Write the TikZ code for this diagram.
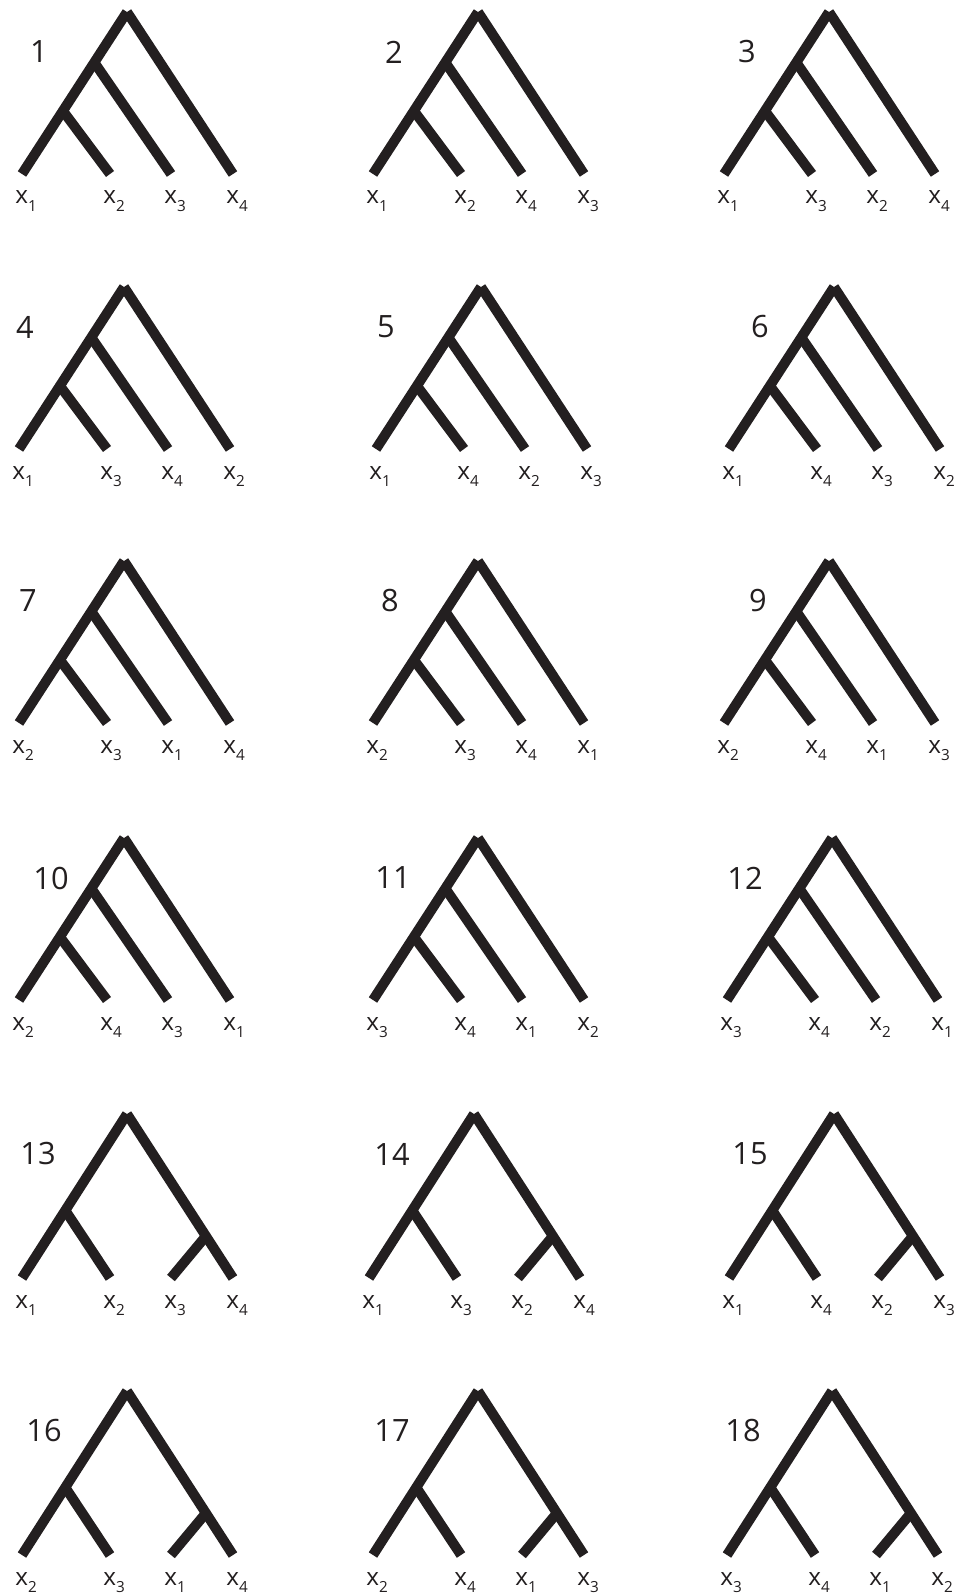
\documentclass[tikz,border=0pt]{standalone}
\usepackage{fontspec}
\setmainfont{Open Sans}
\definecolor{ink}{HTML}{231F20}
\newcommand{\leafsub}[1]{x\raisebox{-4pt}{\fontsize{8.7}{9}\selectfont #1}}

\begin{document}
\begin{tikzpicture}[
  x=0.02cm, y=-0.02cm,
  branch/.style={draw=ink, line width=0.2cm, line cap=butt},
  treenum/.style={font=\fontsize{17.5}{20}\selectfont, inner sep=0pt, text=ink},
  leaflab/.style={anchor=base west, inner sep=0pt, font=\fontsize{13.8}{14}\selectfont, text=ink}
]
\useasboundingbox (0,0) rectangle (956,1594);

% Caterpillar trees (1-12)
\foreach \n/\rx/\ry/\dx/\a/\b/\c/\d in {
  1/127/12/-88/1/2/3/4, 2/478/12/-84/1/2/4/3, 3/829/12/-82/1/3/2/4,
  4/124/287/-99/1/3/4/2, 5/481/287/-95/1/4/2/3, 6/834/287/-74/1/4/3/2,
  7/124/561/-96/2/3/1/4, 8/478/561/-88/2/3/4/1, 9/829/561/-71/2/4/1/3,
  10/124/838/-73/2/4/3/1, 11/478/838/-85/3/4/1/2, 12/832/838/-87/3/4/2/1}{
  \coordinate (root\n) at (\rx,\ry);
  \coordinate (inA\n) at (\rx-64,\ry+99);
  \coordinate (inB\n) at (\rx-33,\ry+50);
  \coordinate (leaf\n-1) at (\rx-105,\ry+162);
  \coordinate (leaf\n-2) at (\rx-17,\ry+162);
  \coordinate (leaf\n-3) at (\rx+44,\ry+162);
  \coordinate (leaf\n-4) at (\rx+106,\ry+162);
  \draw[branch] (root\n) -- (leaf\n-1);
  \draw[branch] (root\n) -- (leaf\n-4);
  \draw[branch] (inA\n) -- (leaf\n-2);
  \draw[branch] (inB\n) -- (leaf\n-3);
  \node[treenum] (num\n) at (\rx+\dx,\ry+40) {\n};
  \node[leaflab] (lab\n-1) at (\rx-112,\ry+192) {\leafsub{\a}};
  \node[leaflab] (lab\n-2) at (\rx-24,\ry+192) {\leafsub{\b}};
  \node[leaflab] (lab\n-3) at (\rx+37,\ry+192) {\leafsub{\c}};
  \node[leaflab] (lab\n-4) at (\rx+99,\ry+192) {\leafsub{\d}};
}

% Balanced trees (13-18)
\foreach \n/\rx/\ry/\dx/\a/\b/\c/\d in {
  13/127/1114/-89/1/2/3/4, 14/474/1114/-82/1/3/2/4, 15/834/1114/-84/1/4/2/3,
  16/127/1391/-83/2/3/1/4, 17/478/1391/-86/2/4/1/3, 18/832/1391/-89/3/4/1/2}{
  \coordinate (root\n) at (\rx,\ry);
  \coordinate (inL\n) at (\rx-62,\ry+96);
  \coordinate (inR\n) at (\rx+79,\ry+122);
  \coordinate (leaf\n-1) at (\rx-105,\ry+164);
  \coordinate (leaf\n-2) at (\rx-17,\ry+164);
  \coordinate (leaf\n-3) at (\rx+44,\ry+164);
  \coordinate (leaf\n-4) at (\rx+106,\ry+164);
  \draw[branch] (root\n) -- (leaf\n-1);
  \draw[branch] (root\n) -- (leaf\n-4);
  \draw[branch] (inL\n) -- (leaf\n-2);
  \draw[branch] (inR\n) -- (leaf\n-3);
  \node[treenum] (num\n) at (\rx+\dx,\ry+40) {\n};
  \node[leaflab] (lab\n-1) at (\rx-112,\ry+194) {\leafsub{\a}};
  \node[leaflab] (lab\n-2) at (\rx-24,\ry+194) {\leafsub{\b}};
  \node[leaflab] (lab\n-3) at (\rx+37,\ry+194) {\leafsub{\c}};
  \node[leaflab] (lab\n-4) at (\rx+99,\ry+194) {\leafsub{\d}};
}
\end{tikzpicture}
\end{document}
